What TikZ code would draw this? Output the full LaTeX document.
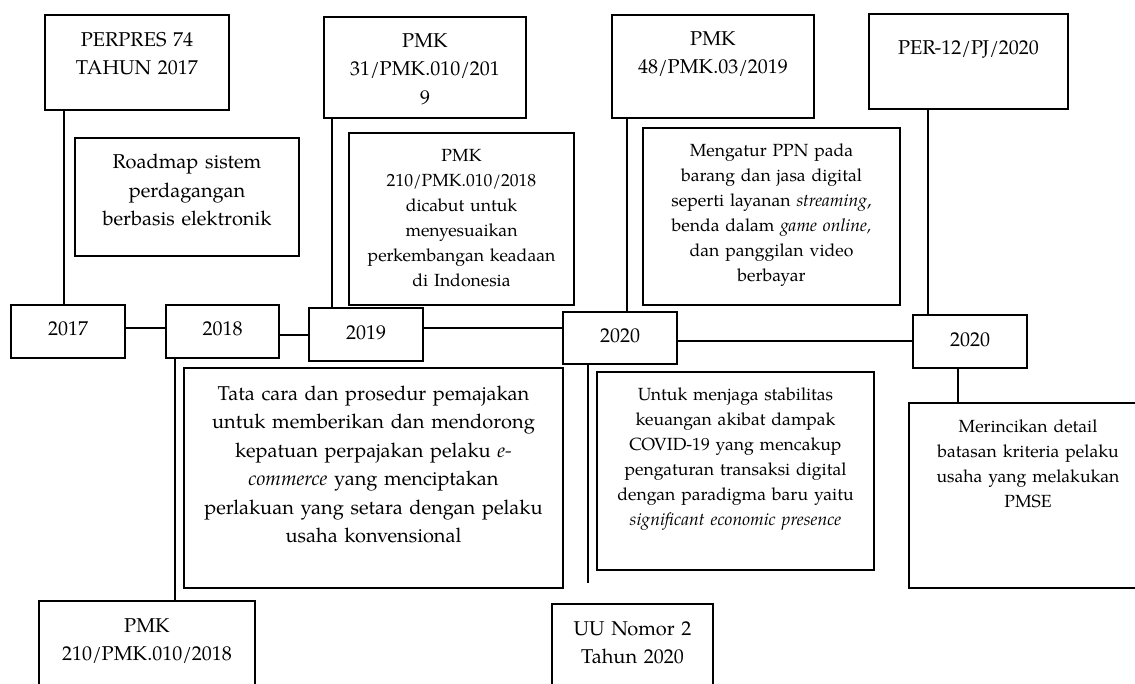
\documentclass[tikz,border=0pt]{standalone}
\usepackage{fontspec}
\setmainfont{texgyrepagella}[Extension=.otf,UprightFont=*-regular,ItalicFont=*-italic,BoldFont=*-bold,BoldItalicFont=*-bolditalic]
\begin{document}
\begin{tikzpicture}[x=1pt,y=-1pt,
  boxn/.style={draw=black, line width=2.4pt, inner sep=0pt, outer sep=0pt, rectangle},
  bigt/.style={font=\fontsize{20}{28.5}\selectfont, align=center, inner sep=0pt, anchor=base},
  smallt/.style={font=\fontsize{17.6}{25.1}\selectfont, align=center, inner sep=0pt, anchor=base},
  conn/.style={draw=black, line width=2.3pt}]
\useasboundingbox (0,0) rectangle (1135,683);
\clip (0,0) rectangle (1135,683);
\fill[white] (0,0) rectangle (1135,683);

% boxes
\node[boxn, minimum width=184, minimum height=95]  (perpres) at (137,62.5) {};
\node[boxn, minimum width=224, minimum height=118] (roadmap) at (187,197) {};
\node[boxn, minimum width=202, minimum height=101] (pmk31)   at (425,67.5) {};
\node[boxn, minimum width=225, minimum height=172] (dicabut) at (461.5,219) {};
\node[boxn, minimum width=202, minimum height=103] (pmk48)   at (713,66.5) {};
\node[boxn, minimum width=257, minimum height=177] (mengatur) at (771.5,216.5) {};
\node[boxn, minimum width=199, minimum height=95]  (per12)   at (968.5,61.5) {};
\node[boxn, minimum width=114, minimum height=53]  (y2017)   at (68,331.5) {};
\node[boxn, minimum width=113, minimum height=53]  (y2018)   at (222.5,331.5) {};
\node[boxn, minimum width=114, minimum height=53]  (y2019)   at (366,334.5) {};
\node[boxn, minimum width=114, minimum height=52]  (y2020a)  at (620,338) {};
\node[boxn, minimum width=114, minimum height=53]  (y2020b)  at (970,341.5) {};
\node[boxn, minimum width=379, minimum height=220] (tata)    at (373.5,478) {};
\node[boxn, minimum width=277, minimum height=198] (untuk)   at (735.5,471) {};
\node[boxn, minimum width=238, minimum height=185] (merinci) at (1028,495.5) {};
\node[boxn, minimum width=216, minimum height=109] (pmkb)    at (147,655.5) {};
\node[boxn, minimum width=161, minimum height=106] (uu)      at (632.5,657) {};

% texts
\node[bigt, text width=184] (perpresT) at (137,46) {PERPRES 74\\TAHUN 2017};
\node[bigt, text width=224] (roadmapT) at (187,168.5) {Roadmap sistem\\perdagangan\\berbasis elektronik};
\node[bigt, text width=202] (pmk31T) at (425,47) {PMK\\31/PMK.010/201\\9};
\node[smallt, text width=225] (dicabutT) at (461.5,161) {PMK\\210/PMK.010/2018\\dicabut untuk\\menyesuaikan\\perkembangan keadaan\\di Indonesia};
\node[bigt, text width=202] (pmk48T) at (713,45) {PMK\\48/PMK.03/2019};
\node[smallt, text width=257] (mengaturT) at (771.5,156) {Mengatur PPN pada\\barang dan jasa digital\\seperti layanan \textit{streaming},\\benda dalam \textit{game online,}\\dan panggilan video\\berbayar};
\node[bigt, text width=199] (per12T) at (968.5,54) {PER-12/PJ/2020};
\node[bigt, text width=114] (y2017T) at (68,335) {2017};
\node[bigt, text width=113] (y2018T) at (222.5,335) {2018};
\node[bigt, text width=114] (y2019T) at (366,339) {2019};
\node[bigt, text width=114] (y2020aT) at (620,342) {2020};
\node[bigt, text width=114] (y2020bT) at (970,346) {2020};
\node[bigt, text width=379] (tataT) at (373.5,400) {Tata cara dan prosedur pemajakan\\untuk memberikan dan mendorong\\kepatuan perpajakan pelaku \textit{e-}\\\textit{commerce} yang menciptakan\\perlakuan yang setara dengan pelaku\\usaha konvensional};
\node[smallt, text width=277] (untukT) at (735.5,400) {Untuk menjaga stabilitas\\keuangan akibat dampak\\COVID-19 yang mencakup\\pengaturan transaksi digital\\dengan paradigma baru yaitu\\\textit{significant economic presence}};
\node[smallt, text width=238] (merinciT) at (1028,432) {Merincikan detail\\batasan kriteria pelaku\\usaha yang melakukan\\PMSE};
\node[bigt, text width=216] (pmkbT) at (147,632) {PMK\\210/PMK.010/2018};
\node[bigt, text width=161] (uuT) at (632.5,635) {UU Nomor 2\\Tahun 2020};

% connector guide coordinates
\coordinate (xa) at (64,0);
\coordinate (xb) at (332,0);
\coordinate (xc) at (627,0);
\coordinate (xd) at (928,0);
\coordinate (xe) at (175,0);
\coordinate (xf) at (588,0);
\coordinate (xg) at (958,0);
\coordinate (ya) at (0,328);
\coordinate (yb) at (0,335);
\coordinate (yc) at (0,328);
\coordinate (yd) at (0,341);
\coordinate (uuend) at (588,583);

% vertical connectors
\draw[conn] (perpres.south -| xa) -- (y2017.north -| xa);
\draw[conn] (pmk31.south -| xb) -- (y2019.north -| xb);
\draw[conn] (pmk48.south -| xc) -- (y2020a.north -| xc);
\draw[conn] (per12.south -| xd) -- (y2020b.north -| xd);
\draw[conn] (y2018.south -| xe) -- (pmkb.north -| xe);
\draw[conn] (y2020a.south -| xf) -- (uuend);
\draw[conn] (y2020b.south -| xg) -- (merinci.north -| xg);

% horizontal connectors
\draw[conn] (y2017.east |- ya) -- (y2018.west |- ya);
\draw[conn] (y2018.east |- yb) -- (y2019.west |- yb);
\draw[conn] (y2019.east |- yc) -- (y2020a.west |- yc);
\draw[conn] (y2020a.east |- yd) -- (y2020b.west |- yd);
\end{tikzpicture}
\end{document}
